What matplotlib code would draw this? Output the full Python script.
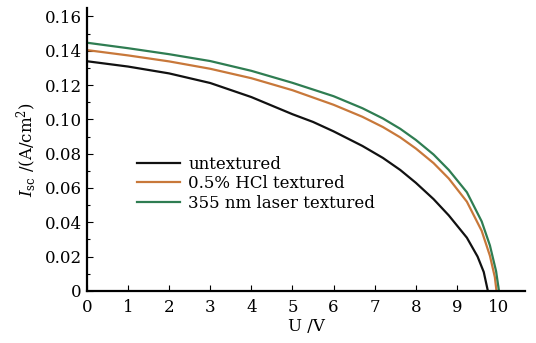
import matplotlib
matplotlib.use('Agg')
import matplotlib.pyplot as plt
from matplotlib.ticker import MultipleLocator, FuncFormatter

plt.rcParams['font.family'] = 'DejaVu Serif'
plt.rcParams['mathtext.fontset'] = 'dejavuserif'

# I-V curves (voltage in V, current density in A/cm^2)
v_untex = [0, 1, 2, 3, 4, 5, 5.5, 6, 6.7, 7.2, 7.62, 8.0, 8.43, 8.8, 9.24, 9.5, 9.65, 9.75]
i_untex = [0.1339, 0.1308, 0.1268, 0.1212, 0.1130, 0.1030, 0.0985, 0.0930, 0.0845,
           0.0775, 0.0705, 0.0630, 0.0535, 0.0440, 0.0310, 0.0200, 0.0110, 0.0]

v_hcl = [0, 1, 2, 3, 4, 5, 6, 6.7, 7.2, 7.62, 8.0, 8.43, 8.8, 9.24, 9.6, 9.8, 9.92, 9.96]
i_hcl = [0.1404, 0.1373, 0.1338, 0.1295, 0.1240, 0.1170, 0.1085, 0.1015, 0.0955,
         0.0895, 0.0830, 0.0745, 0.0655, 0.0520, 0.0350, 0.0205, 0.0080, 0.0]

v_laser = [0, 1, 2, 3, 4, 5, 6, 6.7, 7.2, 7.62, 8.0, 8.43, 8.8, 9.24, 9.6, 9.8, 9.95, 10.02]
i_laser = [0.1447, 0.1415, 0.1380, 0.1340, 0.1283, 0.1213, 0.1135, 0.1065, 0.1005,
           0.0945, 0.0880, 0.0795, 0.0705, 0.0575, 0.0405, 0.0265, 0.0115, 0.0]

labels = ['untextured', '0.5% HCl textured', '355 nm laser textured']
colors = ['#111111', '#c8783a', '#2f7d52']

fig = plt.figure(figsize=(5.36, 3.43), dpi=100)
ax = fig.add_axes([0.162, 0.152, 0.818, 0.825])

ax.plot(v_untex, i_untex, color=colors[0], lw=1.6, label=labels[0])
ax.plot(v_hcl, i_hcl, color=colors[1], lw=1.6, label=labels[1])
ax.plot(v_laser, i_laser, color=colors[2], lw=1.6, label=labels[2])

ax.set_xlim(0, 10.66)
ax.set_ylim(0, 0.165)
ax.xaxis.set_major_locator(MultipleLocator(1))
ax.yaxis.set_major_locator(MultipleLocator(0.02))
ax.yaxis.set_minor_locator(MultipleLocator(0.01))
ax.yaxis.set_major_formatter(FuncFormatter(lambda y, p: '0' if abs(y) < 1e-9 else f'{y:.2f}'))

for s in ['top', 'right']:
    ax.spines[s].set_visible(False)
for s in ['left', 'bottom']:
    ax.spines[s].set_linewidth(1.6)
ax.tick_params(direction='in', length=4, width=0.8, labelsize=12)
ax.tick_params(axis='x', pad=6)
ax.tick_params(which='minor', direction='in', length=2.5, width=0.8)

ax.set_xlabel('U /V', fontsize=12, labelpad=1)
ax.set_ylabel(r'$I_{\rm sc}$ /(A/cm$^2$)', fontsize=12, labelpad=4)

ax.legend(loc='upper left', bbox_to_anchor=(0.114, 0.478), frameon=False, fontsize=12,
          handlelength=2.6, handletextpad=0.5, labelspacing=0.15,
          borderaxespad=0, borderpad=0)

fig.savefig('out.png', dpi=100)
